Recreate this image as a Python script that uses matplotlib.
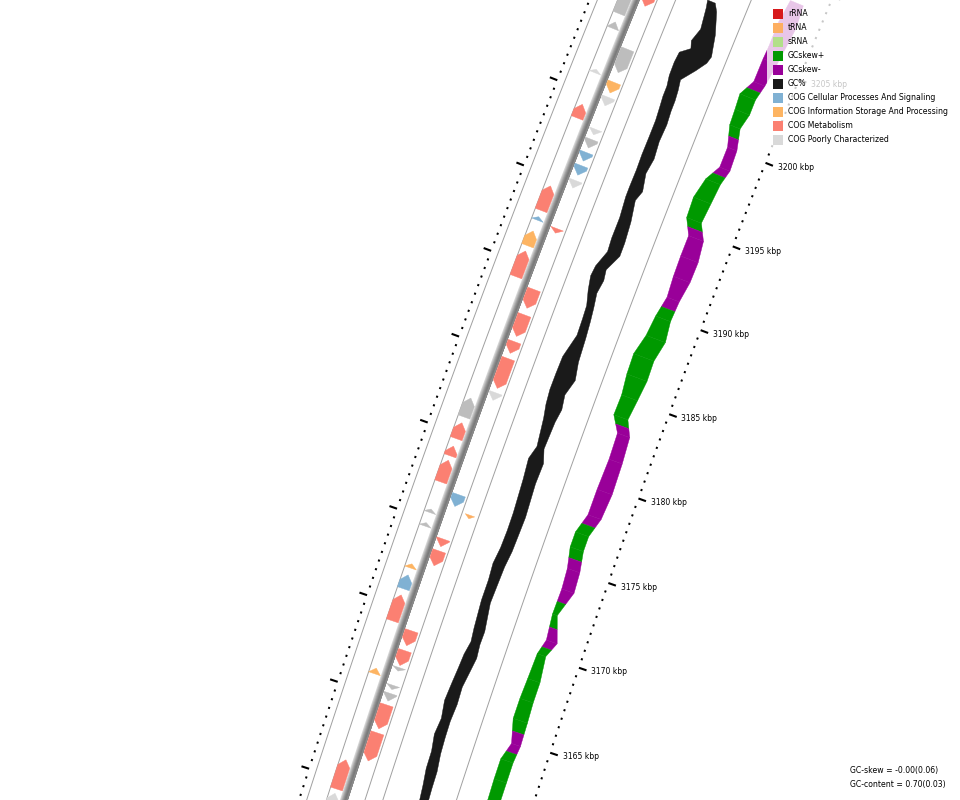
import matplotlib.pyplot as plt
from matplotlib.patches import Polygon, Rectangle
import numpy as np

# circular genome map, zoomed in on ~3160-3208 kbp
GENOME_KBP = 3950.0
CX, CY, R_RULER = 11251.0, 4324.0, 11281.0   # map centre and inner ruler radius (px)

# forward strand CDS (kbp)
fwd_start = [3204.64, 3203.76, 3201.14, 3198.48, 3193.04, 3192.47, 3190.97, 3189.16,
             3180.96, 3179.70, 3178.70, 3177.18, 3175.40, 3174.61, 3172.18, 3170.98,
             3169.12, 3166.06, 3159.41, 3157.00]
fwd_end = [3206.50, 3204.14, 3201.34, 3199.28, 3194.48, 3192.67, 3191.83, 3190.66,
           3182.06, 3180.62, 3179.26, 3178.44, 3175.60, 3174.81, 3172.42, 3171.78,
           3170.62, 3166.38, 3161.09, 3159.16]
fwd_cat = ['none', 'none', 'poor', 'metab', 'metab', 'cell', 'info', 'metab',
           'none', 'metab', 'metab', 'metab', 'none', 'none', 'info', 'cell',
           'metab', 'info', 'metab', 'poor']

# reverse strand CDS (kbp)
rev_start = [3205.55, 3201.62, 3200.42, 3199.66, 3197.95, 3197.17, 3196.40, 3195.57,
             3194.81, 3192.16, 3187.75, 3186.10, 3185.11, 3183.06, 3182.36, 3176.17,
             3173.83, 3172.72, 3168.08, 3166.93, 3166.61, 3165.54, 3164.87, 3163.27,
             3161.41]
rev_end = [3207.00, 3203.00, 3201.04, 3200.16, 3198.27, 3197.67, 3196.90, 3196.13,
           3195.25, 3192.42, 3188.85, 3187.36, 3185.79, 3184.80, 3182.80, 3176.85,
           3174.27, 3173.58, 3168.94, 3167.79, 3166.81, 3165.78, 3165.31, 3164.65,
           3163.03]
rev_cat = ['metab', 'none', 'info', 'poor', 'poor', 'none', 'cell', 'cell',
           'poor', 'metab', 'metab', 'metab', 'metab', 'metab', 'poor', 'cell',
           'metab', 'metab', 'metab', 'metab', 'none', 'none', 'none', 'metab',
           'metab']

# reverse strand tRNA
trna_start = [3175.79]
trna_end = [3175.99]

# GC content band (window min / max)
gc_pos = [3207.17, 3206.75, 3205.54, 3204.76, 3204.34, 3203.92, 3203.31, 3202.53, 3201.93,
          3201.33, 3200.72, 3199.94, 3198.93, 3197.92, 3197.02, 3196.01, 3195.42, 3194.22,
          3193.01, 3192.23, 3191.27, 3190.66, 3189.88, 3189.05, 3188.27, 3187.32, 3185.95,
          3184.94, 3184.00, 3183.17, 3182.40, 3180.80, 3180.03, 3178.83, 3176.90, 3175.88,
          3174.87, 3173.92, 3172.97, 3171.79, 3170.20, 3169.43, 3168.66, 3167.84, 3166.90,
          3165.90, 3164.90, 3163.96, 3163.02, 3162.02, 3161.08, 3160.08]
gc_hi = [0.7115, 0.7073, 0.7000, 0.7108, 0.7043, 0.7278, 0.7303, 0.7295, 0.7250,
         0.7248, 0.7223, 0.7195, 0.7195, 0.7200, 0.7188, 0.7195, 0.7193, 0.7145,
         0.7148, 0.7123, 0.7275, 0.7303, 0.7235, 0.7133, 0.7113, 0.7098, 0.7248,
         0.7260, 0.7263, 0.7228, 0.7163, 0.7078, 0.7175, 0.7125, 0.7075, 0.7070,
         0.7085, 0.7135, 0.7105, 0.7105, 0.7053, 0.7015, 0.7078, 0.7103, 0.7138,
         0.7170, 0.7103, 0.7145, 0.7078, 0.7070, 0.7015, 0.6973]
gc_lo = [0.6908, 0.6793, 0.6605, 0.6530, 0.6488, 0.6538, 0.6723, 0.6993, 0.6948,
         0.6923, 0.6920, 0.6893, 0.6915, 0.6875, 0.6933, 0.6845, 0.6935, 0.6843,
         0.6798, 0.6795, 0.6993, 0.6953, 0.7003, 0.6945, 0.6903, 0.6865, 0.6828,
         0.6745, 0.6863, 0.6808, 0.6858, 0.6890, 0.6778, 0.6795, 0.6748, 0.6763,
         0.6780, 0.6830, 0.6848, 0.6870, 0.6770, 0.6778, 0.6745, 0.6795, 0.6855,
         0.6838, 0.6868, 0.6860, 0.6840, 0.6785, 0.6778, 0.6760]

# GC skew band
skew_pos = [3208.89, 3207.56, 3206.05, 3205.33, 3203.95, 3203.04, 3202.14, 3201.23, 3200.03,
            3198.84, 3197.95, 3196.76, 3195.57, 3194.67, 3193.46, 3192.26, 3191.05, 3189.85,
            3188.66, 3187.47, 3186.28, 3185.09, 3183.91, 3183.02, 3181.50, 3179.70, 3178.20,
            3177.07, 3176.19, 3175.01, 3173.83, 3172.35, 3170.87, 3169.99, 3168.51, 3167.33,
            3166.16, 3164.81, 3163.81, 3162.64, 3161.46, 3160.00]
skew_hi = [-0.002, 0.025, 0.024, 0.030, 0.031, 0.114, 0.102, 0.093, 0.030,
           0.030, 0.117, 0.164, 0.154, 0.070, 0.071, 0.066, 0.051, 0.091,
           0.112, 0.164, 0.157, 0.133, 0.138, 0.040, 0.030, 0.040, 0.040,
           0.100, 0.100, 0.055, 0.040, 0.045, 0.018, 0.060, 0.070, 0.080,
           0.080, 0.016, 0.070, 0.070, 0.065, 0.060]
skew_lo = [-0.141, -0.160, -0.133, -0.120, -0.089, -0.054, -0.055, -0.019, -0.070,
           -0.080, -0.041, -0.023, -0.004, -0.089, -0.116, -0.112, -0.080, -0.068,
           -0.094, -0.052, -0.058, -0.036, -0.012, -0.090, -0.110, -0.120, -0.100,
           -0.040, -0.040, -0.077, -0.090, -0.005, -0.096, -0.030, -0.060, -0.060,
           -0.070, -0.078, -0.060, -0.060, -0.060, -0.050]

# ruler labels shown
label_kbp = [3165, 3170, 3175, 3180, 3185, 3190, 3195, 3200, 3205]

legend_labels = ['rRNA', 'tRNA', 'sRNA', 'GCskew+', 'GCskew-', 'GC%',
                 'COG Cellular Processes And Signaling',
                 'COG Information Storage And Processing',
                 'COG Metabolism', 'COG Poorly Characterized']
legend_colors = ['#d7191c', '#fdae61', '#b2df8a', '#009900', '#990099', '#1a1a1a',
                 '#80b1d3', '#fdb462', '#fb8072', '#d9d9d9']

cat_colors = {'cell': '#80b1d3', 'info': '#fdb462', 'metab': '#fb8072',
              'poor': '#d9d9d9', 'none': '#bdbdbd', 'trna': '#fdae61'}


def to_xy(p, d):
    th = np.deg2rad(np.asarray(p, float) / GENOME_KBP * 360.0)
    r = R_RULER + np.asarray(d, float)
    return CX + r * np.sin(th), CY - r * np.cos(th)


fig = plt.figure(figsize=(9.6, 8), dpi=100)
ax = fig.add_axes([0, 0, 1, 1])
ax.set_xlim(0, 960)
ax.set_ylim(800, 0)
ax.axis('off')

view = np.linspace(3150, 3216, 80)


def add_poly(ps, ds, color, z=2, lw=0.3):
    x, y = to_xy(ps, ds)
    ax.add_patch(Polygon(np.column_stack([x, y]), closed=True, fc=color,
                         ec=color if lw > 0 else 'none', lw=lw, zorder=z))


# thin slot lines
for d in [216.7, 197.9, 161.2, 144.2, 74.2]:
    x, y = to_xy(view, np.full_like(view, d))
    ax.plot(x, y, color='#a0a0a0', lw=0.7, zorder=1)

# backbone, shaded: stacked strips so no gaps show
bb_cols = ['#d4d4d4', '#bcbcbc', '#a4a4a4', '#909090', '#808080', '#7a7a7a', '#8a8a8a']
for i, c in enumerate(bb_cols):
    ps = np.concatenate([view, view[::-1]])
    ds = np.concatenate([np.full_like(view, 185.0 - i), np.full_like(view, 177.5)])
    add_poly(ps, ds, c, z=1, lw=0)


def feature(p0, p1, d0, d1, strand, color):
    head = min(0.38, p1 - p0)
    mid = (d0 + d1) / 2
    if strand > 0:
        ps = [p0, p1 - head, p1, p1 - head, p0]
    else:
        ps = [p1, p0 + head, p0, p0 + head, p1]
    ds = [d0, d0, mid, d1, d1]
    add_poly(ps, ds, color, z=3)


for s, e, c in zip(fwd_start, fwd_end, fwd_cat):
    feature(s, e, 185.5, 198, 1, cat_colors[c])
for s, e, c in zip(rev_start, rev_end, rev_cat):
    feature(s, e, 163.5, 177, -1, cat_colors[c])
for s, e in zip(trna_start, trna_end):
    feature(s, e, 148, 158, -1, cat_colors['trna'])

# GC content
gc_hi_d = 110 + (np.array(gc_hi) - 0.70) * 400
gc_lo_d = 110 + (np.array(gc_lo) - 0.70) * 400
add_poly(np.concatenate([gc_pos, gc_pos[::-1]]),
         np.concatenate([gc_hi_d, gc_lo_d[::-1]]), '#1a1a1a')

# GC skew, green above zero, purple below
sk_hi = 38 + np.array(skew_hi) * 100
sk_lo = 38 + np.array(skew_lo) * 100
sk_mid = np.array(skew_hi) + np.array(skew_lo)
for i in range(len(skew_pos) - 1):
    p0, p1 = skew_pos[i], skew_pos[i + 1]
    if np.sign(sk_mid[i]) == np.sign(sk_mid[i + 1]):
        parts = [(p0, p1, sk_hi[i], sk_hi[i + 1], sk_lo[i], sk_lo[i + 1], sk_mid[i])]
    else:
        pm = (p0 + p1) / 2
        hm = (sk_hi[i] + sk_hi[i + 1]) / 2
        lm = (sk_lo[i] + sk_lo[i + 1]) / 2
        parts = [(p0, pm, sk_hi[i], hm, sk_lo[i], lm, sk_mid[i]),
                 (pm, p1, hm, sk_hi[i + 1], lm, sk_lo[i + 1], sk_mid[i + 1])]
    for a, b, ha, hb, la, lb, m in parts:
        add_poly([a, b, b, a], [ha, hb, lb, la], '#009900' if m > 0 else '#990099')

# rulers, minor tick every 0.5 kbp
for k in range(6300, 6434):
    p = k / 2.0
    if k % 10 == 0:
        x, y = to_xy([p, p], [0, -8])
        ax.plot(x, y, color='black', lw=1.5, solid_capstyle='butt', zorder=4)
        x, y = to_xy([p, p], [224, 232])
        ax.plot(x, y, color='black', lw=1.5, solid_capstyle='butt', zorder=4)
    else:
        x, y = to_xy([p, p], [1.0, -1.0])
        ax.plot(x, y, color='black', lw=1.5, solid_capstyle='butt', zorder=4)
        x, y = to_xy([p, p], [223, 225])
        ax.plot(x, y, color='black', lw=1.5, solid_capstyle='butt', zorder=4)

for p in label_kbp:
    tx, ty = to_xy(p, -13)
    ax.text(tx, ty, f'{p} kbp', ha='left', va='center', fontsize=5.5,
            color='black', zorder=4)

# legend
ax.add_patch(Rectangle((767, 0), 193, 148, fc='white', ec='none', alpha=0.78, zorder=6))
for i, (lab, col) in enumerate(zip(legend_labels, legend_colors)):
    yc = 14 + 14 * i
    ax.add_patch(Rectangle((773, yc - 5), 10, 10, fc=col, ec='none', zorder=7))
    ax.text(788, yc, lab, ha='left', va='center', fontsize=5.6, zorder=7)

ax.text(850, 771, 'GC-skew = -0.00(0.06)', ha='left', va='center', fontsize=5.6)
ax.text(850, 785, 'GC-content = 0.70(0.03)', ha='left', va='center', fontsize=5.6)

fig.savefig('out.png', dpi=100)
